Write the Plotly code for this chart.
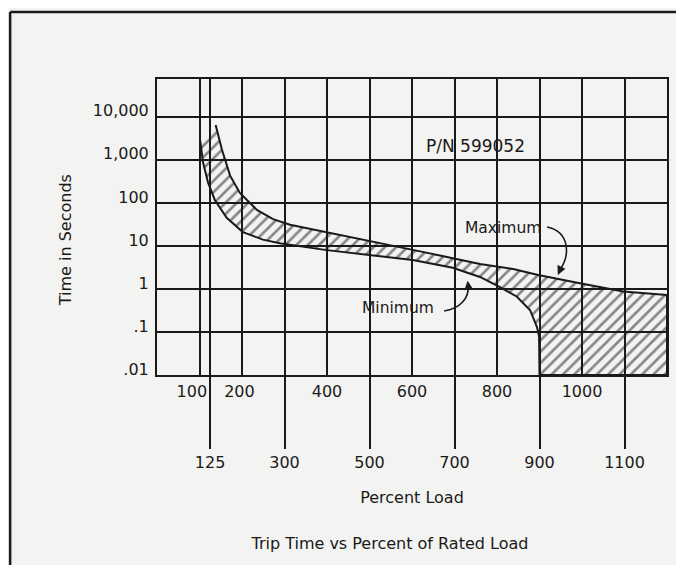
import plotly.graph_objects as go

# trip curve (percent load, seconds)
load_max = [138, 153, 172, 195, 235, 273, 313, 395, 501, 602, 696, 760, 838, 897, 995, 1097, 1200]
time_max = [6500, 1700, 430, 170, 69, 42, 31, 21, 12.6, 8.1, 5.2, 3.8, 2.9, 2.1, 1.35, 0.87, 0.72]

load_min = [102, 108, 120, 136, 164, 202, 249, 289, 395, 501, 602, 696, 760, 807, 847, 878, 894, 899, 900, 1200]
time_min = [2700, 900, 300, 117, 45, 21, 14, 11.5, 8.1, 6.2, 4.7, 3.1, 1.9, 1.1, 0.66, 0.32, 0.13, 0.078, 0.01, 0.01]

y_ticks = [0.01, 0.1, 1, 10, 100, 1000, 10000]
y_labels = [".01", ".1", "1", "10", "100", "1,000", "10,000"]
x_ticks_upper = [100, 200, 400, 600, 800, 1000]
x_labels_upper = ["100\u00a0\u00a0\u00a0", "200\u00a0", "400", "600", "800", "1000"]
x_ticks_lower = [125, 300, 500, 700, 900, 1100]

FONT = "DejaVu Sans"
INK = "#1a1a1a"
BG = "#f3f3f1"

fig = go.Figure()

# hatched band between min and max curves
fig.add_trace(go.Scatter(
    x=load_max + load_min[::-1],
    y=time_max + time_min[::-1],
    fill="toself",
    fillcolor="rgba(0,0,0,0)",
    fillpattern=dict(shape="/", fgcolor=INK, size=8, solidity=0.33),
    mode="lines",
    line=dict(color=INK, width=2),
    hoverinfo="skip",
    showlegend=False,
))
# empty trace so the second x axis (long ticks) gets drawn
fig.add_trace(go.Scatter(x=[None], y=[None], xaxis="x2", showlegend=False))

# page has an 8px body margin, so the figure is 8px smaller than the window
fig.update_layout(
    width=676, height=557,
    margin=dict(l=149, r=17, t=71, b=190),
    paper_bgcolor=BG, plot_bgcolor=BG,
    font=dict(family=FONT, size=15, color=INK),
    title=dict(text="Trip Time vs Percent of Rated Load", x=0.565, y=0.038,
               xref="container", yref="container", xanchor="center", yanchor="middle",
               font=dict(size=16)),
    xaxis=dict(range=[0, 1200], tickvals=x_ticks_upper, ticktext=x_labels_upper,
               showgrid=True, gridcolor=INK, gridwidth=1.5, zeroline=False,
               showline=True, mirror=True, linecolor=INK, linewidth=2,
               ticks="", ticklabelstandoff=1, tickangle=0, tickfont=dict(size=16)),
    xaxis2=dict(range=[0, 1200], overlaying="x", anchor="y", side="bottom",
                tickvals=x_ticks_lower, showgrid=True, gridcolor=INK, gridwidth=1.5,
                zeroline=False, showline=False, ticks="outside", ticklen=73,
                tickwidth=1.5, tickcolor=INK, tickangle=0, tickfont=dict(size=16),
                title=dict(text="Percent Load", standoff=20, font=dict(size=16))),
    yaxis=dict(type="log", range=[-2, 4.88], tickvals=y_ticks, ticktext=y_labels,
               showgrid=True, gridcolor=INK, gridwidth=1.5, zeroline=False,
               showline=True, mirror=True, linecolor=INK, linewidth=2,
               ticks="", ticklabelshift=-6, ticklabelstandoff=3, tickfont=dict(size=16)),
)

# outer frame (top and left edges of the scanned page)
fig.add_shape(type="line", xref="paper", yref="paper", x0=-0.288, y0=1.226, x1=1.06, y1=1.226,
              line=dict(color=INK, width=2.5))
fig.add_shape(type="line", xref="paper", yref="paper", x0=-0.288, y0=1.226, x1=-0.288, y1=-0.66,
              line=dict(color=INK, width=2.5))

# curved leader arrows
fig.add_shape(type="path", xref="paper", yref="paper",
              path="M 0.765 0.5 C 0.810 0.483, 0.810 0.405, 0.790 0.355",
              line=dict(color=INK, width=1.6))
fig.add_shape(type="path", xref="paper", yref="paper",
              path="M 0.563 0.216 C 0.595 0.225, 0.612 0.26, 0.610 0.300",
              line=dict(color=INK, width=1.6))

fig.add_annotation(x=0.786, y=0.338, xref="paper", yref="paper", text="", showarrow=True,
                   ax=4, ay=-9, arrowhead=2, arrowsize=1.1, arrowwidth=1.6, arrowcolor=INK)
fig.add_annotation(x=0.609, y=0.318, xref="paper", yref="paper", text="", showarrow=True,
                   ax=1, ay=8, arrowhead=2, arrowsize=1.1, arrowwidth=1.6, arrowcolor=INK)

labels = [("P/N 599052", 0.625, 0.774, 0, 17), ("Maximum", 0.6794, 0.4966, 0, 15.5),
          ("Minimum", 0.4716, 0.2264, 0, 15.5), ("Time in Seconds", -0.18, 0.456, -90, 16)]
for txt, px, py, ang, fs in labels:
    fig.add_annotation(x=px, y=py, xref="paper", yref="paper", text=txt, showarrow=False,
                       xanchor="center", yanchor="middle", textangle=ang,
                       font=dict(size=fs))

fig.write_html("out.html")
